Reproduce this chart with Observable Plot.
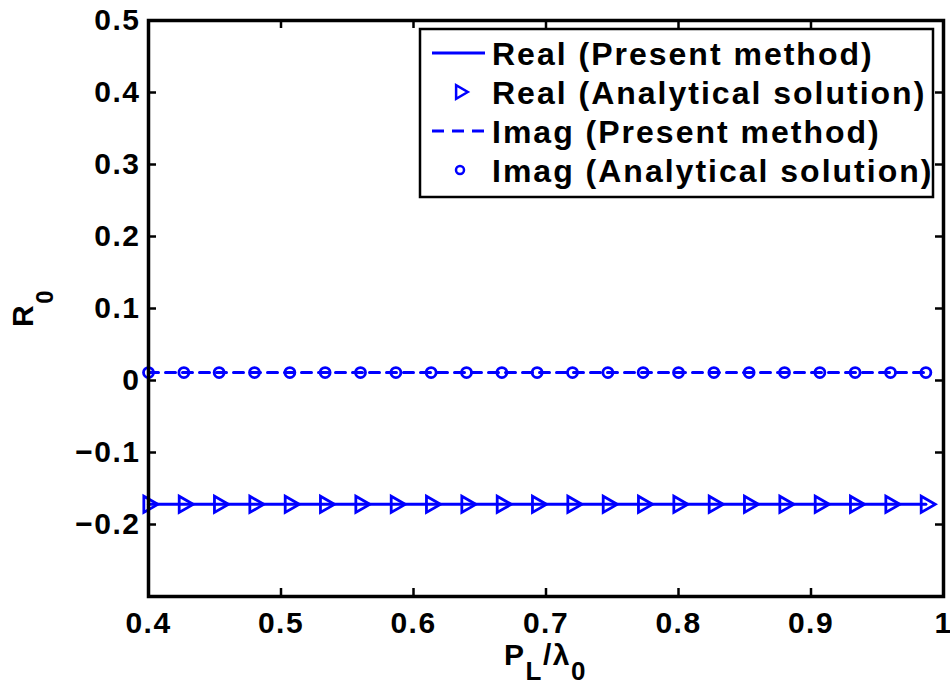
<!DOCTYPE html>
<html><head><meta charset="utf-8">
<script src="https://cdn.jsdelivr.net/npm/d3@7"></script>
<script src="https://cdn.jsdelivr.net/npm/@observablehq/plot@0.6"></script>
<style>body{margin:0;background:#fff}</style>
</head><body><div id="chart"></div>
<script>
const pL = [0.4000,0.4267,0.4533,0.4800,0.5067,0.5333,0.5600,0.5867,0.6133,0.6400,0.6667,0.6933,0.7200,0.7467,0.7733,0.8000,0.8267,0.8533,0.8800,0.9067,0.9333,0.9600,0.9867];
const realPresent = [-0.172,-0.172,-0.172,-0.172,-0.172,-0.172,-0.172,-0.172,-0.172,-0.172,-0.172,-0.172,-0.172,-0.172,-0.172,-0.172,-0.172,-0.172,-0.172,-0.172,-0.172,-0.172,-0.172];
const realAnalytical = [-0.172,-0.172,-0.172,-0.172,-0.172,-0.172,-0.172,-0.172,-0.172,-0.172,-0.172,-0.172,-0.172,-0.172,-0.172,-0.172,-0.172,-0.172,-0.172,-0.172,-0.172,-0.172,-0.172];
const imagPresent = [0.011,0.011,0.011,0.011,0.011,0.011,0.011,0.011,0.011,0.011,0.011,0.011,0.011,0.011,0.011,0.011,0.011,0.011,0.011,0.011,0.011,0.011,0.011];
const imagAnalytical = [0.011,0.011,0.011,0.011,0.011,0.011,0.011,0.011,0.011,0.011,0.011,0.011,0.011,0.011,0.011,0.011,0.011,0.011,0.011,0.011,0.011,0.011,0.011];
const xTicks = [0.4,0.5,0.6,0.7,0.8,0.9,1.0];
const yTicks = [-0.2,-0.1,0,0.1,0.2,0.3,0.4,0.5];
const legendLabels = ["Real (Present method)","Real (Analytical solution)","Imag (Present method)","Imag (Analytical solution)"];

const rows = pL.map((x,i)=>({x, rp: realPresent[i], ra: realAnalytical[i], ip: imagPresent[i], ia: imagAnalytical[i]}));
const W=950, H=685, mL=148, mR=7, mT=20, mB=89;
const plotW = W-mL-mR, plotH = H-mT-mB;
const blue = "#0000ff";
const font = "'Liberation Sans', Arial, Helvetica, sans-serif";
const tick = 8;
const fmt = d => (d < 0 ? "\u2212" + String(Math.abs(d)) : String(d));

const chart = Plot.plot({
  width: W, height: H, marginLeft: mL, marginRight: mR, marginTop: mT, marginBottom: mB,
  x: {domain: [0.4, 1]},
  y: {domain: [-0.3, 0.5]},
  style: {fontFamily: font, fontWeight: "bold", fontSize: "30px", letterSpacing: "1.5px", background: "white", color: "black", overflow: "visible"},
  marks: [
    Plot.line(rows, {x: "x", y: "rp", stroke: blue, strokeWidth: 3}),
    Plot.line(rows, {x: "x", y: "ip", stroke: blue, strokeWidth: 3, strokeDasharray: "10,7"}),
    Plot.dot(rows, {x: "x", y: "ra", symbol: "triangle", rotate: 90, r: 6, stroke: blue, strokeWidth: 2.8, fill: "none"}),
    Plot.dot(rows, {x: "x", y: "ia", symbol: "circle", r: 5, stroke: blue, strokeWidth: 2.8, fill: "none"}),
    Plot.ruleX(xTicks, {insetTop: plotH - tick, stroke: "black", strokeWidth: 2.5}),
    Plot.ruleX(xTicks, {insetBottom: plotH - tick, stroke: "black", strokeWidth: 2.5}),
    Plot.ruleY(yTicks, {insetRight: plotW - tick, stroke: "black", strokeWidth: 2.5}),
    Plot.ruleY(yTicks, {insetLeft: plotW - tick, stroke: "black", strokeWidth: 2.5}),
    Plot.frame({stroke: "black", strokeWidth: 3.5}),
    Plot.axisX({ticks: xTicks, tickSize: 0, tickPadding: 15, tickFormat: fmt, label: null}),
    Plot.axisY({ticks: yTicks, tickSize: 0, tickPadding: 8, tickFormat: fmt, label: null})
  ]
});
document.getElementById("chart").appendChild(chart);

const sx = chart.scale("x"), sy = chart.scale("y");
const svg = d3.select(chart);

// axis labels
const xc = (sx.apply(0.4) + sx.apply(1)) / 2;
const xl = svg.append("text").attr("x", xc).attr("y", 665).attr("text-anchor", "middle")
  .attr("font-family", font).attr("font-weight", "bold").attr("font-size", 30).attr("fill", "black");
xl.append("tspan").text("P");
xl.append("tspan").attr("font-size", 26).attr("dy", 15).text("L");
xl.append("tspan").attr("dy", -15).text("/λ");
xl.append("tspan").attr("font-size", 26).attr("dy", 15).text("0");

const yc = (sy.apply(-0.3) + sy.apply(0.5)) / 2;
const yl = svg.append("text").attr("transform", `translate(33,${yc}) rotate(-90)`).attr("text-anchor", "middle")
  .attr("font-family", font).attr("font-weight", "bold").attr("font-size", 30).attr("fill", "black");
yl.append("tspan").text("R");
yl.append("tspan").attr("font-size", 24).attr("dy", 20).text("0");

// legend
const lg = svg.append("g").attr("font-family", font).attr("font-weight", "bold").attr("font-size", 32)
  .attr("letter-spacing", "2px").attr("text-anchor", "start");
lg.append("rect").attr("x", 420).attr("y", 29).attr("width", 513).attr("height", 168)
  .attr("fill", "white").attr("stroke", "black").attr("stroke-width", 2.5);
const base = [65, 104, 143, 182];
lg.append("line").attr("x1", 432).attr("x2", 485).attr("y1", 53).attr("y2", 53).attr("stroke", blue).attr("stroke-width", 3);
lg.append("path").attr("d", d3.symbol(d3.symbolTriangle, 5*5*Math.PI)()).attr("transform", "translate(460,92) rotate(90)")
  .attr("fill", "none").attr("stroke", blue).attr("stroke-width", 2.5);
lg.append("line").attr("x1", 432).attr("x2", 485).attr("y1", 131).attr("y2", 131).attr("stroke", blue).attr("stroke-width", 3).attr("stroke-dasharray", "12,8");
lg.append("circle").attr("cx", 460).attr("cy", 170).attr("r", 4).attr("fill", "none").attr("stroke", blue).attr("stroke-width", 2.5);
legendLabels.forEach((t, i) => {
  lg.append("text").attr("x", 492).attr("y", base[i]).attr("fill", "black").text(t);
});
</script>
</body></html>
